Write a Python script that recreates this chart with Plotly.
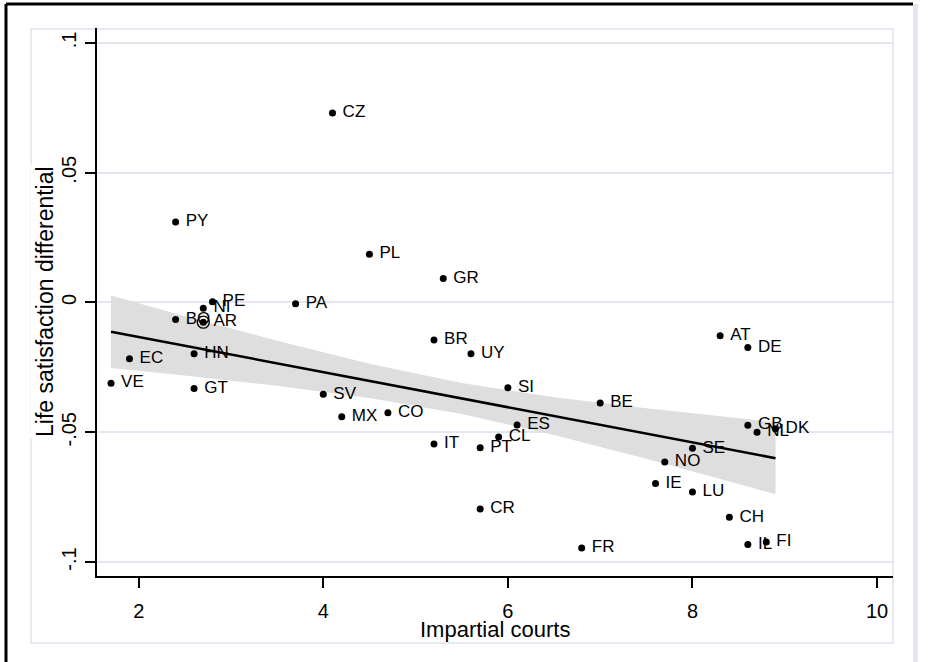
import plotly.graph_objects as go

# ---- data ----
countries = ["CZ", "PY", "PL", "GR", "PE", "NI", "PA", "BO", "AR", "HN",
             "EC", "VE", "GT", "SV", "MX", "CO", "BR", "UY", "SI", "ES",
             "CL", "IT", "PT", "CR", "FR", "BE", "AT", "DE", "GB", "NL",
             "DK", "SE", "NO", "IE", "LU", "CH", "IL", "FI"]
courts = [4.1, 2.4, 4.5, 5.3, 2.8, 2.7, 3.7, 2.4, 2.7, 2.6,
          1.9, 1.7, 2.6, 4.0, 4.2, 4.7, 5.2, 5.6, 6.0, 6.1,
          5.9, 5.2, 5.7, 5.7, 6.8, 7.0, 8.3, 8.6, 8.6, 8.7,
          8.9, 8.0, 7.7, 7.6, 8.0, 8.4, 8.6, 8.8]
lsd = [0.0730, 0.0310, 0.0186, 0.0092, 0.0003, -0.0022, -0.0005, -0.0066, -0.0076, -0.0198,
       -0.0217, -0.0311, -0.0331, -0.0354, -0.0440, -0.0425, -0.0145, -0.0198, -0.0329, -0.0472,
       -0.0518, -0.0545, -0.0560, -0.0796, -0.0946, -0.0387, -0.0128, -0.0173, -0.0473, -0.0500,
       -0.0487, -0.0562, -0.0615, -0.0698, -0.0730, -0.0828, -0.0933, -0.0923]

# fitted line and confidence band
fit_x = [1.7, 8.9]
fit_y = [-0.01125, -0.0600]
band_x = [1.7, 2.5, 3.5, 4.5, 5.5, 6.5, 7.5, 8.9]
band_upper = [0.0027, -0.0053, -0.0147, -0.0236, -0.0310, -0.0365, -0.0408, -0.0461]
band_lower = [-0.0252, -0.0281, -0.0321, -0.0368, -0.0430, -0.0511, -0.0602, -0.0739]

x_ticks = [2, 4, 6, 8, 10]
y_ticks = [-0.1, -0.05, 0, 0.05, 0.1]
y_ticktext = ["-.1", "-.05", "0", ".05", ".1"]

# ---- layout geometry (pixels) ----
W, H = 933, 662
L, R, T, B = 97, 40, 28, 86
PW, PH = W - L - R, H - T - B


def px(x):
    return (x - L) / PW


def py(y):
    return (H - B - y) / PH


FONT = "Liberation Sans, Arial, sans-serif"

fig = go.Figure()

fig.add_trace(go.Scatter(
    x=band_x + band_x[::-1], y=band_upper + band_lower[::-1],
    fill="toself", fillcolor="#dedede", line=dict(width=0),
    mode="lines", hoverinfo="skip", showlegend=False))

fig.add_trace(go.Scatter(
    x=fit_x, y=fit_y, mode="lines",
    line=dict(color="black", width=2.5), showlegend=False))

fig.add_trace(go.Scatter(
    x=courts, y=lsd, mode="markers+text", text=["\u00a0" + c for c in countries],
    textposition="middle right",
    textfont=dict(family=FONT, size=17, color="black"),
    marker=dict(color="black", size=7), showlegend=False))

ar = countries.index("AR")
fig.add_trace(go.Scatter(
    x=[courts[ar]], y=[lsd[ar]], mode="markers",
    marker=dict(symbol="circle-open", color="black", size=12, line=dict(width=1.3)),
    showlegend=False))

fig.update_layout(
    width=W, height=H, autosize=False,
    margin=dict(l=L, r=R, t=T, b=B, pad=0),
    paper_bgcolor="white", plot_bgcolor="white",
    font=dict(family=FONT, color="black"),
    xaxis=dict(range=[1.5482, 10.173], tickvals=x_ticks,
               ticks="outside", ticklen=10, tickwidth=2, tickcolor="black",
               showline=True, linewidth=2, linecolor="black",
               showgrid=False, zeroline=False,
               tickfont=dict(family=FONT, size=20), ticklabelstandoff=6),
    yaxis=dict(range=[-0.1054, 0.10578], tickvals=y_ticks, ticktext=y_ticktext,
               tickangle=-90,
               ticks="outside", ticklen=10, tickwidth=2, tickcolor="black",
               showline=True, linewidth=2, linecolor="black",
               showgrid=True, gridcolor="#e3e6f0", gridwidth=2,
               zeroline=False,
               tickfont=dict(family=FONT, size=20), ticklabelstandoff=1),
    shapes=[
        dict(type="rect", xref="paper", yref="paper",
             x0=px(31), x1=px(893), y0=py(643), y1=py(29),
             line=dict(color="#e6e9f2", width=2), layer="below"),
        dict(type="line", xref="paper", yref="paper",
             x0=px(6), x1=px(913), y0=py(4), y1=py(4),
             line=dict(color="black", width=3)),
        dict(type="line", xref="paper", yref="paper",
             x0=px(6), x1=px(6), y0=py(4), y1=py(662),
             line=dict(color="black", width=3)),
        dict(type="rect", xref="paper", yref="paper",
             x0=px(913), x1=px(918), y0=py(662), y1=py(4),
             fillcolor="#e3e6f0", line=dict(width=0)),
    ],
    annotations=[
        dict(text="Life satisfaction differential", xref="paper", yref="paper",
             x=px(45), y=0.5, textangle=-90, showarrow=False,
             font=dict(family=FONT, size=23), bgcolor="white",
             xanchor="center", yanchor="middle"),
        dict(text="Impartial courts", xref="paper", yref="paper",
             x=0.5, y=py(629), showarrow=False,
             font=dict(family=FONT, size=22),
             xanchor="center", yanchor="middle"),
    ],
)

fig.write_html("out.html",
               config={"displayModeBar": False},
               post_script="document.body.style.margin='0';"
                           "document.body.style.overflow='hidden';")
